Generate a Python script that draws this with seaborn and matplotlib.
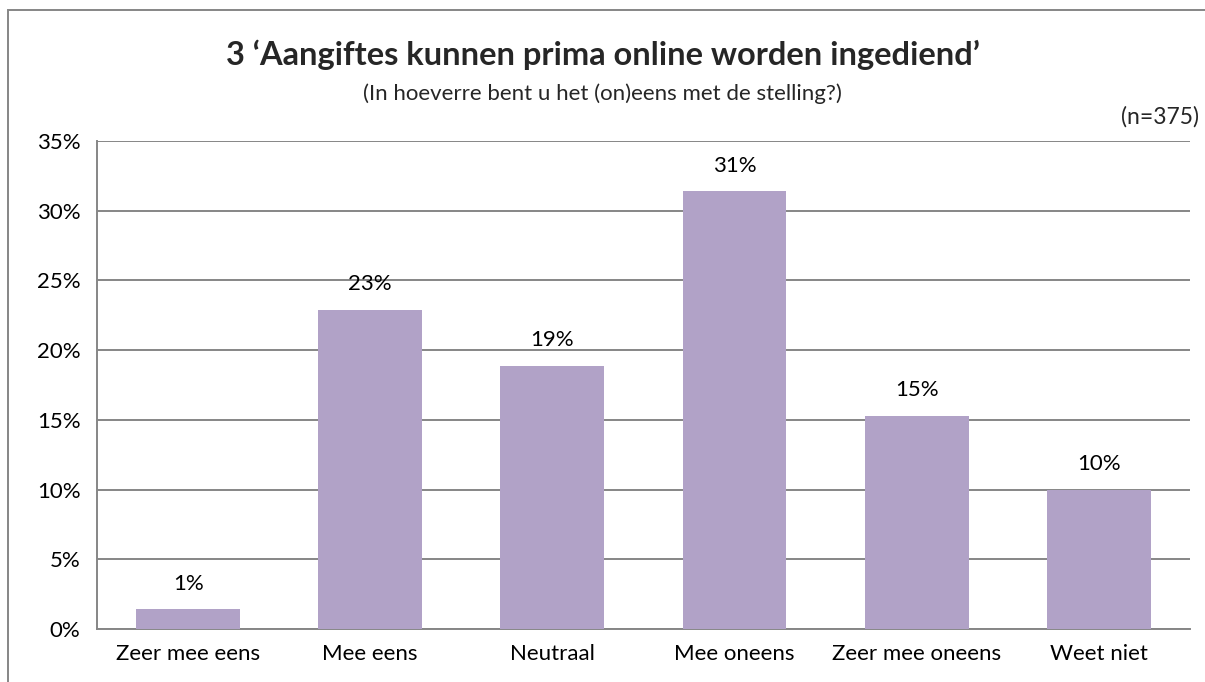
import numpy as np
import pandas as pd
import seaborn as sns
import matplotlib.pyplot as plt
from matplotlib.patches import Rectangle
from matplotlib.ticker import FixedLocator, PercentFormatter

# Chart data
categories = ['Zeer mee eens', 'Mee eens', 'Neutraal', 'Mee oneens', 'Zeer mee oneens', 'Weet niet']
percentages = [1.4, 22.9, 18.9, 31.4, 15.3, 10.0]
bar_labels = ['1%', '23%', '19%', '31%', '15%', '10%']
y_ticks = [0, 5, 10, 15, 20, 25, 30, 35]

title = '3 \u2018Aangiftes kunnen prima online worden ingediend\u2019'
subtitle = '(In hoeverre bent u het (on)eens met de stelling?)'
n_note = '(n=375)'


def main():
    sns.set_style('white')
    plt.rcParams['font.family'] = ['Lato', 'DejaVu Sans']

    df = pd.DataFrame({'categorie': categories, 'pct': percentages})

    fig = plt.figure(figsize=(12.05, 6.82), dpi=100)
    ax = fig.add_axes([0.0805, 0.0777, 0.907, 0.7155])

    grey = '#868686'
    sns.barplot(data=df, x='categorie', y='pct', color='#B1A2C7', width=0.57,
                saturation=1, linewidth=0, ax=ax, zorder=3)

    ax.set_ylim(0, 35)
    ax.set_xlim(-0.5, len(categories) - 0.5)
    ax.set_yticks(y_ticks)
    ax.yaxis.set_major_formatter(PercentFormatter(decimals=0))
    ax.yaxis.grid(True, color=grey, linewidth=1.4, zorder=0)
    ax.set_axisbelow(True)

    # category boundary ticks on x axis
    ax.xaxis.set_minor_locator(FixedLocator(np.arange(-0.5, len(categories), 1.0)))
    ax.tick_params(axis='x', which='major', length=0, labelsize=16, pad=11, colors='black')
    ax.tick_params(axis='x', which='minor', length=7, width=1.4, color=grey, direction='out')
    ax.tick_params(axis='y', which='major', length=7, width=1.4, color=grey,
                   direction='out', labelsize=16, pad=5)
    ax.tick_params(axis='y', labelcolor='black')

    for side in ['top', 'right']:
        ax.spines[side].set_visible(False)
    for side in ['left', 'bottom']:
        ax.spines[side].set_color(grey)
        ax.spines[side].set_linewidth(1.4)

    ax.set_xlabel('')
    ax.set_ylabel('')

    for patch, lab in zip(ax.patches, bar_labels):
        ax.annotate(lab, (patch.get_x() + patch.get_width() / 2, patch.get_height()),
                    xytext=(0, 14), textcoords='offset points', ha='center', va='baseline',
                    fontsize=16, color='black')

    fig.text(0.5, 0.919, title, ha='center', va='center', fontsize=23.5, fontweight='bold')
    fig.text(0.5, 0.862, subtitle, ha='center', va='center', fontsize=16)
    fig.text(0.995, 0.829, n_note, ha='right', va='center', fontsize=16.5)

    # chart-area border
    fig.patches.append(Rectangle((0.0066, -0.05), 1.2, 1.035, transform=fig.transFigure,
                                 fill=False, edgecolor=grey, linewidth=1.4))

    fig.savefig('out.png', dpi=100)


if __name__ == '__main__':
    main()
